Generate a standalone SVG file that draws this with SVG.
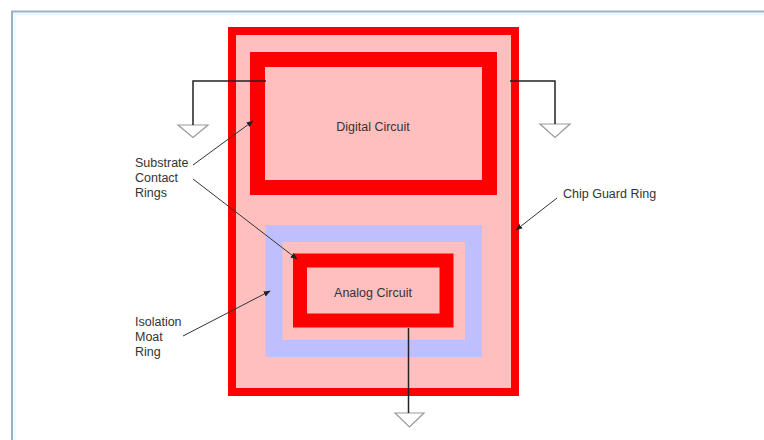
<svg xmlns="http://www.w3.org/2000/svg" width="764" height="440" viewBox="0 0 764 440">
<defs>
<style>
.lbl{font-family:"Liberation Sans",Arial,sans-serif;font-size:12.5px;fill:#333}
.ring{fill:#ffbfbf;stroke:#ff0000}
.lead{stroke:#333;stroke-width:1;fill:none}
.gnd{stroke:#222;stroke-width:1.5;fill:none}
.tri{fill:#fff;stroke:#999;stroke-width:1.2}
</style>
<marker id="ah" viewBox="0 0 10 10" refX="9" refY="5" markerWidth="7" markerHeight="7" orient="auto" markerUnits="userSpaceOnUse">
<path d="M0,1 L10,5 L0,9 z" fill="#222"/>
</marker>
</defs>
<rect width="764" height="440" fill="#fff"/>
<path d="M12,440 V11.5 H764" fill="none" stroke="#9cb2c4" stroke-width="2"/>
<path d="M14.5,440 V14 H764" fill="none" stroke="#e6fbff" stroke-width="2"/>

<g id="chip">
<rect class="ring" x="232" y="31" width="283" height="361" stroke-width="8"/>
</g>
<g id="digital">
<rect class="ring" x="257.5" y="59.5" width="232" height="128" stroke-width="15"/>
<text class="lbl" x="373" y="131" text-anchor="middle">Digital Circuit</text>
</g>
<g id="moat">
<rect x="274" y="233.5" width="199.5" height="115" fill="#ffbfbf" stroke="#bfbfff" stroke-width="17"/>
</g>
<g id="analog">
<rect class="ring" x="300" y="260.5" width="146.5" height="60" stroke-width="14"/>
<text class="lbl" x="373" y="297" text-anchor="middle">Analog Circuit</text>
</g>

<g id="labels">
<text class="lbl" x="135" y="167">Substrate</text>
<text class="lbl" x="135" y="182">Contact</text>
<text class="lbl" x="135" y="197">Rings</text>
<text class="lbl" x="135" y="326">Isolation</text>
<text class="lbl" x="135" y="341">Moat</text>
<text class="lbl" x="135" y="356">Ring</text>
<text class="lbl" x="563" y="198">Chip Guard Ring</text>
</g>

<g id="grounds">
<path class="tri" d="M178,125 H208 L193,137.5 z"/>
<path class="tri" d="M540,124 H570 L555,137.5 z"/>
<path class="tri" d="M395,413 H424 L409.5,427 z"/>
</g>

<g id="connectors">
<path class="gnd" d="M266,81 H193 V125"/>
<path class="gnd" d="M510,81 H555 V124"/>
<path class="gnd" d="M408.5,328 V413"/>
<path class="lead" d="M193,165 L253,121" marker-end="url(#ah)"/>
<path class="lead" d="M193,179 L297,259" marker-end="url(#ah)"/>
<path class="lead" d="M183,336 L270,291" marker-end="url(#ah)"/>
<path class="lead" d="M557,198 L516,230" marker-end="url(#ah)"/>
</g>
</svg>
